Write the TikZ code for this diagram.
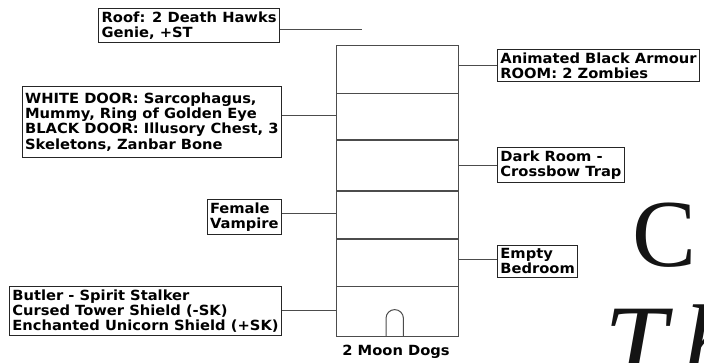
\documentclass[tikz,border=0pt]{standalone}
\usepackage{fontspec}
\setmainfont{DejaVu Sans}
\newfontfamily\notefont[FakeStretch=1.05]{DejaVu Sans}
\newfontfamily\titlefont{Liberation Serif}
\usetikzlibrary{positioning}

\begin{document}
\begin{tikzpicture}[x=1pt, y=-1pt,
  note/.style={draw=black!85, line width=0.8pt, fill=white, align=left, inner xsep=3pt, inner ysep=3pt,
    font=\notefont\fontsize{14}{15.3}\selectfont\bfseries},
  wall/.style={draw=black!70, line width=1.3pt},
  link/.style={draw=black!70, line width=1pt},
  bigletter/.style={inner sep=0pt, anchor=base west, font=\titlefont\fontsize{96}{96}\selectfont}]
  \definecolor{tinta}{RGB}{20,20,20}

  \useasboundingbox (0,0) rectangle (704,362);

  % tower
  \coordinate (tNW) at (336.7,45.7);
  \coordinate (tSE) at (458.3,336.7);
  \draw[wall] (tNW) rectangle (tSE);
  \foreach \fy in {93.3,140,191,239,286.7}
    \draw[wall] (336.7,\fy) -- (458.3,\fy);
  \draw[wall, line width=1pt] (386,336.7) -- (386,318.3)
    arc[start angle=180, end angle=360, radius=8.7] -- (403.4,336.7); % door

  % notes, left side
  \node[note, anchor=north east] (roof)    at (280,8)   {Roof: 2 Death Hawks\\Genie, +ST};
  \node[note, anchor=north east, minimum height=71pt] (doors) at (282,86) {WHITE DOOR: Sarcophagus,\\Mummy, Ring of Golden Eye\\BLACK DOOR: Illusory Chest, 3\\Skeletons, Zanbar Bone};
  \node[note, anchor=north east] (vampire) at (282,199) {Female\\Vampire};
  \node[note, anchor=north east] (butler)  at (282,286) {Butler - Spirit Stalker\\Cursed Tower Shield (-SK)\\Enchanted Unicorn Shield (+SK)};

  % notes, right side
  \node[note, anchor=north west] (armour)  at (497,49)  {Animated Black Armour\\ROOM: 2 Zombies};
  \node[note, anchor=north west] (dark)    at (497,147) {Dark Room -\\Crossbow Trap};
  \node[note, anchor=north west] (bedroom) at (497,245) {Empty\\Bedroom};

  \node[inner sep=0pt, font=\notefont\fontsize{14}{15}\selectfont\bfseries] (dogs) at (396,352) {2 Moon Dogs};

  % where the links meet the tower
  \coordinate (cRoof)    at (362,29);
  \coordinate (cDoors)   at (336.7,115.7);
  \coordinate (cVampire) at (336.7,213.3);
  \coordinate (cButler)  at (336.7,310);
  \coordinate (cArmour)  at (458.3,65);
  \coordinate (cDark)    at (458.3,165);
  \coordinate (cBedroom) at (458.3,259.3);

  \draw[link] (cRoof -| roof.east) -- (cRoof);
  \draw[link] (cDoors -| doors.east) -- (cDoors);
  \draw[link] (cVampire -| vampire.east) -- (cVampire);
  \draw[link] (cButler -| butler.east) -- (cButler);
  \draw[link] (cArmour) -- (cArmour -| armour.west);
  \draw[link] (cDark) -- (cDark -| dark.west);
  \draw[link] (cBedroom) -- (cBedroom -| bedroom.west);

  % title, cut off at the edge
  \begin{scope}
    \clip (0,0) rectangle (704,362);
    \node[bigletter, text=tinta] (titleC)  at (632,266) {C};
    \node[bigletter, text=tinta, font=\titlefont\itshape\fontsize{112}{112}\selectfont] (titleTh) at (604,382) {T\kern16pt h};
  \end{scope}
\end{tikzpicture}
\end{document}
